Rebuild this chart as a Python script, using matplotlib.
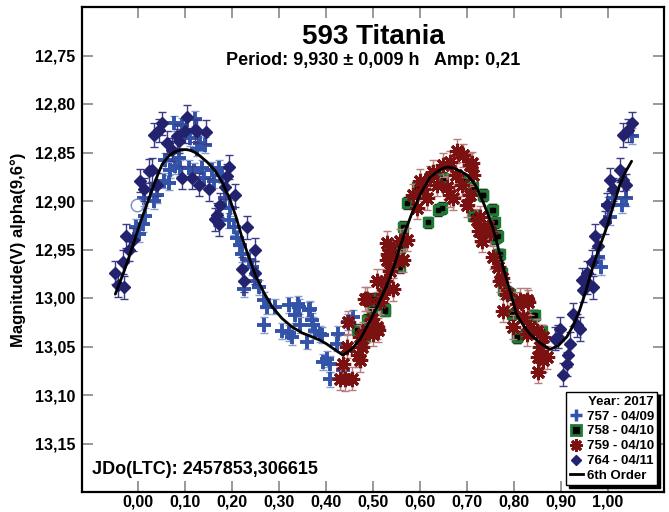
import matplotlib
matplotlib.use("Agg")
import matplotlib.pyplot as plt
from matplotlib.lines import Line2D
import numpy as np

plt.rcParams['font.family'] = ['Liberation Sans', 'DejaVu Sans']
plt.rcParams['font.weight'] = 'bold'

# ---------------- data ----------------
title = "593 Titania"
subtitle = "Period: 9,930 \u00b1 0,009 h   Amp: 0,21"
jd_text = "JDo(LTC): 2457853,306615"
ylabel = "Magnitude(V) alpha(9,6\u00b0)"
xticks = [0.0, 0.1, 0.2, 0.3, 0.4, 0.5, 0.6, 0.7, 0.8, 0.9, 1.0]
xticklabels = ["0,00", "0,10", "0,20", "0,30", "0,40", "0,50", "0,60", "0,70", "0,80", "0,90", "1,00"]
yticks = [12.75, 12.80, 12.85, 12.90, 12.95, 13.00, 13.05, 13.10, 13.15]
yticklabels = ["12,75", "12,80", "12,85", "12,90", "12,95", "13,00", "13,05", "13,10", "13,15"]

# session 757 - 04/09 (blue plus)
s757_x = [0.013, 0.015, 0.009, 0.002, -0.006, 0.026, 0.034, 0.040, 0.055, 0.066, 0.057, 0.068,
          0.077, 0.094, 0.121, 0.111, 0.132, 0.143, 0.126, 0.079, 0.087, 0.089, 0.109, 0.119,
          0.136, 0.140, 0.157, 0.172, 0.179, 0.162, 0.185, 0.194, 0.196, 0.204, 0.211, 0.217,
          0.221, 0.236, 0.243, 0.226, 0.249, 0.257, 0.268, 0.274, 0.268, 0.291, 0.321, 0.343,
          0.334, 0.364, 0.370, 0.306, 0.321, 0.377, 0.387, 0.340, 0.366, 0.345, 0.372, 0.328,
          0.360, 0.391, 0.426, 0.423, 0.447, 0.457, 0.394, 0.409, 0.402, 0.409, 0.436,
          0.980, 0.985, 1.000, 1.004, 1.011, 1.030, 1.040, 1.051]
s757_y = [12.897, 12.915, 12.924, 12.934, 12.927, 12.888, 12.900, 12.894, 12.879, 12.881, 12.858, 12.868,
          12.820, 12.822, 12.815, 12.835, 12.840, 12.842, 12.846, 12.864, 12.856, 12.866, 12.866, 12.869,
          12.866, 12.876, 12.868, 12.866, 12.873, 12.879, 12.897, 12.920, 12.907, 12.927, 12.938, 12.945,
          12.955, 12.961, 12.968, 12.991, 12.982, 12.989, 13.002, 13.009, 13.028, 13.009, 13.007, 13.009,
          13.018, 13.012, 13.023, 13.034, 13.036, 13.034, 13.037, 13.006, 13.011, 13.028, 13.028, 13.040,
          13.045, 13.038, 13.037, 13.047, 13.025, 13.020, 13.066, 13.068, 13.063, 13.084, 13.074,
          12.958, 12.968, 12.904, 12.917, 12.897, 12.904, 12.897, 12.833]
s757_err = 0.008
circle_x = [-0.002]
circle_y = [12.904]

# session 758 - 04/10 (green square)
s758_x = [0.509, 0.526, 0.498, 0.477, 0.483, 0.526, 0.536, 0.543, 0.557, 0.466, 0.487,
          0.734, 0.753, 0.717, 0.760, 0.766, 0.770, 0.774, 0.785, 0.796, 0.845, 0.806, 0.860, 0.647,
          0.572, 0.617, 0.638, 0.594, 0.564, 0.557, 0.540, 0.536, 0.500, 0.498, 0.526, 0.479,
          0.691, 0.649, 0.713, 0.734, 0.713, 0.755, 0.760, 0.766, 0.777, 0.791, 0.806, 0.840]
s758_y = [13.006, 13.011, 13.011, 13.047, 13.040, 12.989, 12.948, 12.951, 12.968, 13.033, 13.023,
          12.894, 12.909, 12.915, 12.922, 12.936, 12.955, 12.974, 12.994, 13.017, 13.018, 13.040, 13.034, 12.907,
          12.902, 12.922, 12.909, 12.886, 12.927, 12.948, 12.948, 12.968, 13.001, 13.011, 13.013, 13.037,
          12.879, 12.876, 12.886, 12.894, 12.915, 12.909, 12.938, 12.955, 12.992, 12.996, 13.040, 13.018]
s758_err = 0.006

# session 759 - 04/10 (dark red asterisk)
s759_x = [0.430, 0.440, 0.455, 0.436, 0.445, 0.447, 0.472, 0.468, 0.477, 0.472, 0.487, 0.500,
          0.509, 0.498, 0.511, 0.483, 0.515, 0.509, 0.526, 0.543, 0.536, 0.530, 0.551, 0.536,
          0.564, 0.530, 0.557, 0.572, 0.479, 0.487, 0.521, 0.532, 0.594, 0.585, 0.600, 0.615,
          0.621, 0.636, 0.649, 0.664, 0.691, 0.706, 0.677, 0.689, 0.664, 0.706, 0.700, 0.721,
          0.726, 0.732, 0.745, 0.755, 0.766, 0.770, 0.777, 0.785, 0.798, 0.813, 0.828, 0.834,
          0.849, 0.862, 0.851, 0.862, 0.851, 0.711, 0.713, 0.657, 0.670, 0.728, 0.749, 0.774,
          0.806, 0.830, 0.819, 0.828, 0.855, 0.870, 0.855, 0.606, 0.628, 0.680]
s759_y = [13.083, 13.084, 13.083, 13.068, 13.050, 13.025, 13.064, 13.059, 13.050, 13.040, 13.033, 13.037,
          13.030, 13.022, 13.033, 13.001, 13.004, 12.982, 12.982, 12.991, 12.972, 12.961, 12.961, 12.951,
          12.961, 12.943, 12.941, 12.940, 13.037, 13.001, 12.996, 12.955, 12.907, 12.894, 12.879, 12.897,
          12.876, 12.883, 12.863, 12.860, 12.853, 12.863, 12.873, 12.883, 12.894, 12.894, 12.904, 12.920,
          12.931, 12.941, 12.927, 12.958, 12.968, 12.982, 13.013, 12.996, 13.030, 13.002, 13.002, 13.030,
          13.034, 13.040, 13.061, 13.064, 13.076, 12.861, 12.873, 12.886, 12.897, 12.917, 12.933, 12.979,
          13.006, 13.004, 13.020, 13.037, 13.050, 13.061, 13.061, 12.888, 12.870, 12.848]
s759_err = 0.012

# session 764 - 04/11 (navy diamond)
s764_x = [-0.049, -0.043, -0.030, -0.032, -0.026, -0.019, -0.011, 0.004, 0.013, 0.023, 0.030,
          0.034, 0.045, 0.051, 0.040, 0.062, 0.072, 0.083, 0.087, 0.104, 0.100, 0.121, 0.126,
          0.145, 0.094, 0.115, 0.130, 0.151, 0.194, 0.189, 0.185, 0.206, 0.174, 0.168, 0.164,
          0.172, 0.232, 0.249, 0.221, 0.226, 0.249,
          1.051, 1.032, 1.043, 1.026, 1.004, 1.032, 1.040, 1.011, 0.998, 0.994, 0.972, 0.979,
          0.966, 0.955, 0.945, 0.957, 0.968, 0.947, 0.926, 0.934, 0.940, 0.898, 0.887, 0.894,
          0.919, 0.915, 0.913, 0.904]
s764_y = [12.974, 12.987, 12.989, 12.963, 12.936, 12.950, 12.940, 12.879, 12.888, 12.869, 12.868,
          12.832, 12.827, 12.820, 12.883, 12.840, 12.847, 12.833, 12.838, 12.813, 12.828, 12.827, 12.828,
          12.829, 12.876, 12.876, 12.883, 12.888, 12.865, 12.874, 12.886, 12.894, 12.904, 12.914, 12.919,
          12.924, 12.927, 12.950, 12.970, 12.982, 12.974,
          12.820, 12.832, 12.827, 12.868, 12.878, 12.878, 12.884, 12.888, 12.904, 12.922, 12.936, 12.946,
          12.963, 12.974, 12.981, 12.984, 12.989, 12.992, 13.017, 13.028, 13.032, 13.032, 13.042, 13.040,
          13.047, 13.059, 13.068, 13.079]
s764_err = 0.012

# 6th order fit curve
fit_x = [-0.049, -0.030, -0.013, 0.005, 0.023, 0.037, 0.051, 0.064, 0.075, 0.085, 0.094, 0.103,
         0.112, 0.121, 0.130, 0.147, 0.164, 0.179, 0.194, 0.208, 0.221, 0.235, 0.249, 0.267,
         0.285, 0.306, 0.328, 0.349, 0.370, 0.385, 0.400, 0.418, 0.436, 0.454, 0.472, 0.490,
         0.509, 0.523, 0.536, 0.547, 0.557, 0.571, 0.585, 0.603, 0.621, 0.636, 0.650, 0.660,
         0.670, 0.685, 0.700, 0.711, 0.721, 0.738, 0.755, 0.766, 0.777, 0.792, 0.806, 0.820,
         0.834, 0.855, 0.877, 0.895, 0.913, 0.927, 0.940, 0.954, 0.968, 0.983, 0.998, 1.012,
         1.026, 1.038, 1.051]
fit_y = [12.996, 12.972, 12.948, 12.921, 12.897, 12.878, 12.862, 12.854, 12.850, 12.848, 12.847, 12.847,
         12.848, 12.850, 12.853, 12.860, 12.869, 12.881, 12.897, 12.916, 12.938, 12.957, 12.976, 12.994,
         13.009, 13.021, 13.030, 13.036, 13.040, 13.043, 13.047, 13.053, 13.059, 13.053, 13.043, 13.027,
         13.009, 12.994, 12.979, 12.964, 12.948, 12.928, 12.910, 12.891, 12.876, 12.870, 12.866, 12.865,
         12.866, 12.869, 12.873, 12.879, 12.886, 12.905, 12.927, 12.947, 12.968, 12.993, 13.017, 13.028,
         13.037, 13.046, 13.053, 13.049, 13.040, 13.028, 13.013, 12.992, 12.968, 12.947, 12.927, 12.905,
         12.883, 12.870, 12.859]

# ---------------- figure ----------------
fig = plt.figure(figsize=(6.69, 5.12), dpi=100)
ax = fig.add_axes([82/669, 1-492/512, (664-82)/669, (492-7)/512])

blue = '#3353a8'
blue_err = '#8a9ccc'
green = '#1f7a36'
red = '#7b1111'
red_err = '#b77d7d'
navy = '#22226e'

ax.errorbar(s757_x, s757_y, yerr=s757_err, fmt='none', ecolor=blue_err, elinewidth=1.0,
            capsize=3, capthick=1.0, zorder=2)
ax.plot(s757_x, s757_y, linestyle='none', marker='+', ms=10, mew=2.8, color=blue, zorder=3)
ax.plot(circle_x, circle_y, linestyle='none', marker='o', ms=9, mfc='none', mec='#7a8cc4', mew=1.0, zorder=3)

ax.errorbar(s758_x, s758_y, yerr=s758_err, fmt='none', ecolor='#222222', elinewidth=1.0,
            capsize=3, capthick=1.0, zorder=2)
ax.plot(s758_x, s758_y, linestyle='none', marker='s', ms=7.5, mfc=green, mec=green, zorder=3)
ax.plot(s758_x, s758_y, linestyle='none', marker='s', ms=3.5, mfc='black', mec='black', zorder=3.1)

ax.errorbar(s759_x, s759_y, yerr=s759_err, fmt='none', ecolor=red_err, elinewidth=1.0,
            capsize=3, capthick=1.0, zorder=4)
ax.plot(s759_x, s759_y, linestyle='none', marker=(8, 2, 0), ms=11, mew=2.2, color=red, zorder=4.5)

ax.errorbar(s764_x, s764_y, yerr=s764_err, fmt='none', ecolor='#3b3b86', elinewidth=1.0,
            capsize=3, capthick=1.0, zorder=5)
ax.plot(s764_x, s764_y, linestyle='none', marker='D', ms=6, mfc=navy, mec=navy, zorder=5.5)

ax.plot(fit_x, fit_y, color='black', lw=2.0, zorder=6, solid_capstyle='round', solid_joinstyle='round')

ax.set_xlim(-0.12, 1.12)
ax.set_ylim(13.20, 12.70)
ax.set_xticks(xticks)
ax.set_xticklabels(xticklabels)
ax.set_yticks(yticks)
ax.set_yticklabels(yticklabels)
ax.tick_params(direction='in', length=8, width=1.2, color='#888888', labelsize=11.5,
               top=True, right=True)
ax.tick_params(axis='x', pad=2)
ax.tick_params(axis='y', pad=5)
for lab in ax.get_xticklabels() + ax.get_yticklabels():
    lab.set_fontweight('bold')
for sp in ax.spines.values():
    sp.set_linewidth(1.6)
    sp.set_color('black')

ax.set_ylabel(ylabel, fontsize=12, fontweight='bold', labelpad=6)

ax.text(0.5, 0.938, title, transform=ax.transAxes, ha='center', va='center',
        fontsize=20, fontweight='bold')
ax.text(0.5, 0.89, subtitle, transform=ax.transAxes, ha='center', va='center',
        fontsize=13, fontweight='bold')
ax.text(0.018, 0.046, jd_text, transform=ax.transAxes, ha='left', va='center',
        fontsize=13, fontweight='bold')

handles = [
    Line2D([], [], linestyle='none', marker='+', ms=9, mew=2.5, color=blue),
    Line2D([], [], linestyle='none', marker='s', ms=7, mfc='black', mec=green, mew=2),
    Line2D([], [], linestyle='none', marker=(8, 2, 0), ms=9, mew=2, color=red),
    Line2D([], [], linestyle='none', marker='D', ms=5, mfc=navy, mec=navy),
    Line2D([], [], color='black', lw=2),
]
labels = ["757 - 04/09", "758 - 04/10", "759 - 04/10", "764 - 04/11", "6th Order"]
leg = ax.legend(handles, labels, title="Year: 2017", loc='lower right',
                prop={'weight': 'bold', 'size': 9.5}, title_fontproperties={'weight': 'bold', 'size': 9.5},
                frameon=True, fancybox=False, shadow={'color': 'black', 'alpha': 1.0}, edgecolor='black',
                handlelength=1.0, handletextpad=0.3, borderpad=0.25, labelspacing=0.2,
                borderaxespad=0.5, framealpha=1.0)
leg.get_frame().set_linewidth(1.0)
leg._legend_box.align = 'right'
leg.set_zorder(10)

fig.savefig('out.png', dpi=100)
